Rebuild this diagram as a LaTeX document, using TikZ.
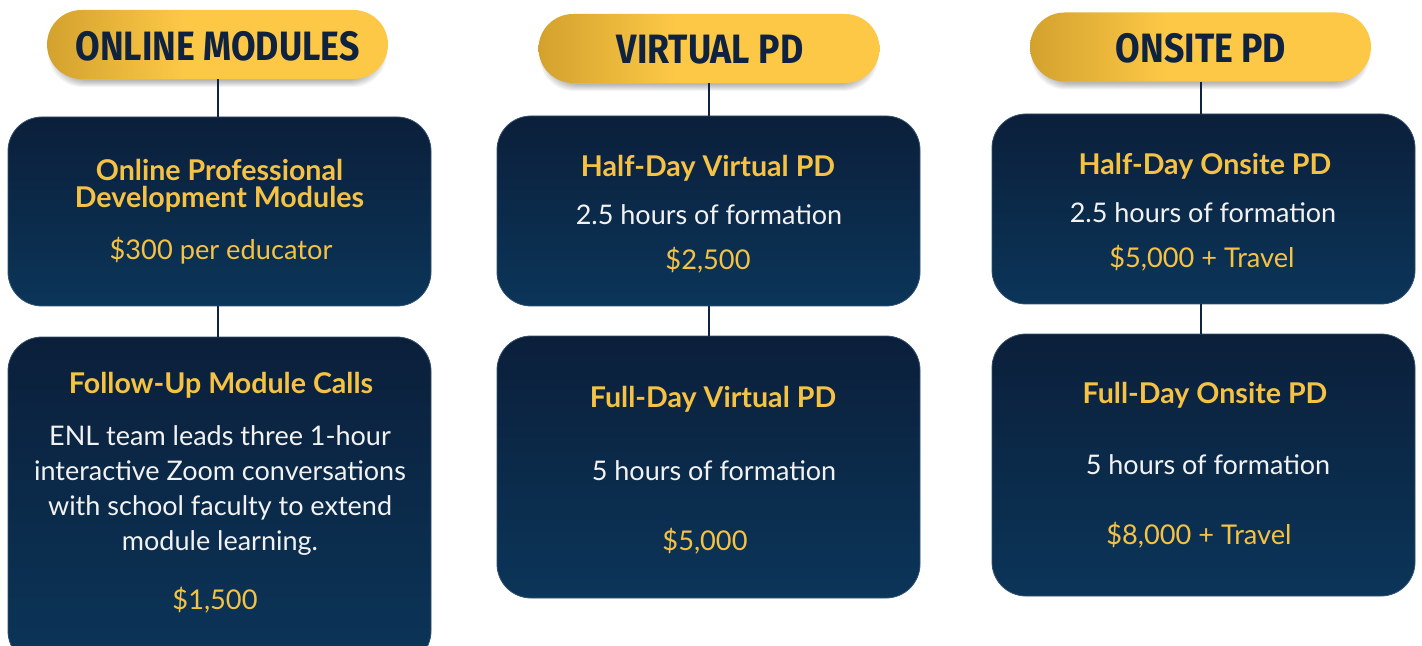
\documentclass[tikz,border=0pt]{standalone}
\usepackage{fontspec}
\setmainfont{Lato}
\newfontfamily\headfont[FakeStretch=0.87]{Fira Sans}
\definecolor{navy}{HTML}{0F2341}
\definecolor{boxtop}{HTML}{0B1F3A}
\definecolor{boxbot}{HTML}{0B3559}
\definecolor{gold}{HTML}{F6C244}
\definecolor{goldA}{HTML}{D3A22E}
\definecolor{goldB}{HTML}{FDC846}
\definecolor{txt}{HTML}{F2F2F2}
\definecolor{edge}{HTML}{34506F}
\pgfdeclarehorizontalshading{goldsh}{100bp}{color(0bp)=(goldA); color(25bp)=(goldA); color(45bp)=(goldB); color(100bp)=(goldB)}
\begin{document}
\begin{tikzpicture}[x=0.5pt,y=-0.5pt,
 pill/.style={rounded corners=17.25pt, minimum width=170.5pt, minimum height=34.5pt, shade, shading=goldsh, inner sep=0pt},
 pillshadow/.style={rounded corners=17.25pt, fill=black, fill opacity=0.045, draw=none},
 card/.style={rounded corners=17pt, minimum width=211.5pt, top color=boxtop, bottom color=boxbot, draw=edge, line width=0.4pt, inner sep=0pt},
 head/.style={font=\headfont\bfseries\fontsize{20.5}{22}\selectfont, text=navy},
 ttl/.style={font=\bfseries\fontsize{14.3}{13.5}\selectfont, text=gold, align=center},
 body/.style={font=\fontsize{13.5}{17.5}\selectfont, text=txt, align=center},
 price/.style={font=\fontsize{13.6}{15}\selectfont, text=gold},
 link/.style={draw=navy, line width=1pt}]
\useasboundingbox[fill=white] (0,0) rectangle (1422,646);

% header shadows
\foreach \cx/\cy in {217.5/44.5, 709/48.5, 1200.5/47}{
  \foreach \g in {1,...,7}{
    \fill[pillshadow] (\cx-170.5+\g,\cy-34.5+8-\g*0.3) rectangle (\cx+170.5-\g,\cy+34.5+9-\g);
  }
}

% headers
\node[pill] (h1) at (217.5,44.5) {};
\node[pill] (h2) at (709,48.5) {};
\node[pill] (h3) at (1200.5,47) {};
\node[head] (h1t) at (217.5,46.5) {ONLINE MODULES};
\node[head] (h2t) at (710,50) {VIRTUAL PD};
\node[head] (h3t) at (1201,48.5) {ONSITE PD};

% cards
\node[card, minimum height=94.5pt] (c1a) at (219.5,211.5) {};
\node[card, minimum height=164pt] (c1b) at (219.5,501) {};
\node[card, minimum height=95pt] (c2a) at (708.5,211) {};
\node[card, minimum height=131pt] (c2b) at (708.5,467) {};
\node[card, minimum height=95pt] (c3a) at (1203.5,209) {};
\node[card, minimum height=131pt] (c3b) at (1203.5,465) {};

% connectors
\draw[link] (h1.south) -- (h1.south |- c1a.north);
\draw[link] (h1.south |- c1a.south) -- (h1.south |- c1b.north);
\draw[link] (h2.south) -- (h2.south |- c2a.north);
\draw[link] (h2.south |- c2a.south) -- (h2.south |- c2b.north);
\draw[link] (h3.south) -- (h3.south |- c3a.north);
\draw[link] (h3.south |- c3a.south) -- (h3.south |- c3b.north);

% column 1
\node[ttl] (t1a) at (219.5,186) {Online Professional\\Development Modules};
\node[price] (p1a) at (221,251) {\$300 per educator};
\node[ttl] (t1b) at (221,385) {Follow-Up Module Calls};
\node[body] (b1b) at (220,490.5) {ENL team leads three 1-hour\\interactive Zoom conversations\\with school faculty to extend\\module learning.};
\node[price] (p1b) at (215,600) {\$1,500};

% column 2
\node[ttl] (t2a) at (708,168) {Half-Day Virtual PD};
\node[body] (b2a) at (709,215) {2.5 hours of formation};
\node[price] (p2a) at (708,260) {\$2,500};
\node[ttl] (t2b) at (713,399) {Full-Day Virtual PD};
\node[body] (b2b) at (714,471) {5 hours of formation};
\node[price] (p2b) at (705,541) {\$5,000};

% column 3
\node[ttl] (t3a) at (1205,166) {Half-Day Onsite PD};
\node[body] (b3a) at (1203,213) {2.5 hours of formation};
\node[price] (p3a) at (1202,258) {\$5,000 + Travel};
\node[ttl] (t3b) at (1205,395) {Full-Day Onsite PD};
\node[body] (b3b) at (1208,465) {5 hours of formation};
\node[price] (p3b) at (1199,535) {\$8,000 + Travel};
\end{tikzpicture}
\end{document}
